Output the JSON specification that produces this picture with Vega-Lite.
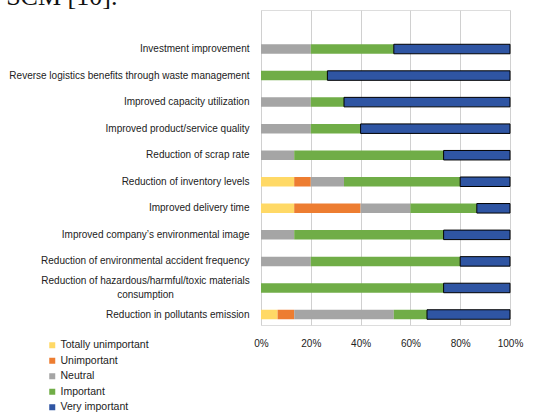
{
  "$schema": "https://vega.github.io/schema/vega-lite/v6.json",
  "width": 249,
  "height": 315,
  "autosize": "none",
  "padding": {"left": 261, "top": 10, "right": 34, "bottom": 87},
  "background": "white",
  "title": {"text": "f SCM [10].", "anchor": "start", "frame": "group", "dx": -270, "dy": 23, "offset": 2, "baseline": "alphabetic", "font": "Liberation Serif", "fontSize": 26, "fontWeight": "normal", "color": "#111"},
  "data": {"values": [
    {"item": "Investment improvement", "Totally unimportant": 0, "Unimportant": 0, "Neutral": 3, "Important": 5, "Very important": 7},
    {"item": "Reverse logistics benefits through waste management", "Totally unimportant": 0, "Unimportant": 0, "Neutral": 0, "Important": 4, "Very important": 11},
    {"item": "Improved capacity utilization", "Totally unimportant": 0, "Unimportant": 0, "Neutral": 3, "Important": 2, "Very important": 10},
    {"item": "Improved product/service quality", "Totally unimportant": 0, "Unimportant": 0, "Neutral": 3, "Important": 3, "Very important": 9},
    {"item": "Reduction of scrap rate", "Totally unimportant": 0, "Unimportant": 0, "Neutral": 2, "Important": 9, "Very important": 4},
    {"item": "Reduction of inventory levels", "Totally unimportant": 2, "Unimportant": 1, "Neutral": 2, "Important": 7, "Very important": 3},
    {"item": "Improved delivery time", "Totally unimportant": 2, "Unimportant": 4, "Neutral": 3, "Important": 4, "Very important": 2},
    {"item": "Improved company’s environmental image", "Totally unimportant": 0, "Unimportant": 0, "Neutral": 2, "Important": 9, "Very important": 4},
    {"item": "Reduction of environmental accident frequency", "Totally unimportant": 0, "Unimportant": 0, "Neutral": 3, "Important": 9, "Very important": 3},
    {"item": "Reduction of hazardous/harmful/toxic materials consumption", "Totally unimportant": 0, "Unimportant": 0, "Neutral": 0, "Important": 11, "Very important": 4},
    {"item": "Reduction in pollutants emission", "Totally unimportant": 1, "Unimportant": 1, "Neutral": 6, "Important": 2, "Very important": 5}
  ]},
  "transform": [
    {"fold": ["Totally unimportant", "Unimportant", "Neutral", "Important", "Very important"], "as": ["level", "count"]},
    {"calculate": "indexof(['Totally unimportant','Unimportant','Neutral','Important','Very important'], datum.level)", "as": "rank"}
  ],
  "mark": {"type": "bar", "height": 9.5},
  "encoding": {
    "y": {
      "field": "item", "type": "nominal", "sort": null, "title": null,
      "scale": {"paddingInner": 0.247, "paddingOuter": 0.556, "align": 0.983},
      "axis": {
        "ticks": false, "domain": false, "grid": false,
        "labelFont": "Liberation Sans", "labelFontSize": 10, "labelColor": "#222",
        "labelLimit": 300, "labelLineHeight": 14,
        "labelExpr": "datum.value == 'Reduction of hazardous/harmful/toxic materials consumption' ? ['Reduction of hazardous/harmful/toxic materials', 'consumption'] : datum.value",
        "labelAlign": {"condition": {"test": "datum.value == 'Reduction of hazardous/harmful/toxic materials consumption'", "value": "center"}, "value": "right"},
        "labelPadding": {"condition": {"test": "datum.value == 'Reduction of hazardous/harmful/toxic materials consumption'", "value": 116}, "value": 12},
        "labelOffset": {"condition": {"test": "datum.value == 'Reduction of hazardous/harmful/toxic materials consumption'", "value": -7}, "value": 0}
      }
    },
    "x": {
      "field": "count", "type": "quantitative", "stack": "normalize", "title": null,
      "scale": {"domain": [0, 1], "nice": false},
      "axis": {
        "values": [0, 0.2, 0.4, 0.6, 0.8, 1], "format": "%", "ticks": false, "domain": false,
        "labelFlush": false,
        "gridColor": "#d0d0d0", "gridWidth": 1,
        "labelFont": "Liberation Sans", "labelFontSize": 10, "labelColor": "#222", "labelPadding": 13
      }
    },
    "color": {
      "field": "level", "type": "nominal", "title": null,
      "scale": {
        "domain": ["Totally unimportant", "Unimportant", "Neutral", "Important", "Very important"],
        "range": ["#FFD966", "#ED7D31", "#A5A5A5", "#70AD47", "#2F55A3"]
      },
      "legend": {
        "orient": "none", "legendX": -214, "legendY": 330, "direction": "vertical",
        "symbolType": "square", "symbolSize": 36, "symbolStrokeWidth": 0,
        "labelFont": "Liberation Sans", "labelFontSize": 10.5, "labelColor": "#222",
        "rowPadding": 4.5, "labelOffset": 3
      }
    },
    "order": {"field": "rank", "type": "quantitative", "sort": "ascending"},
    "stroke": {
      "condition": {"test": "datum.level == 'Very important'", "value": "#000"},
      "value": null
    },
    "strokeWidth": {"value": 1}
  }
}
